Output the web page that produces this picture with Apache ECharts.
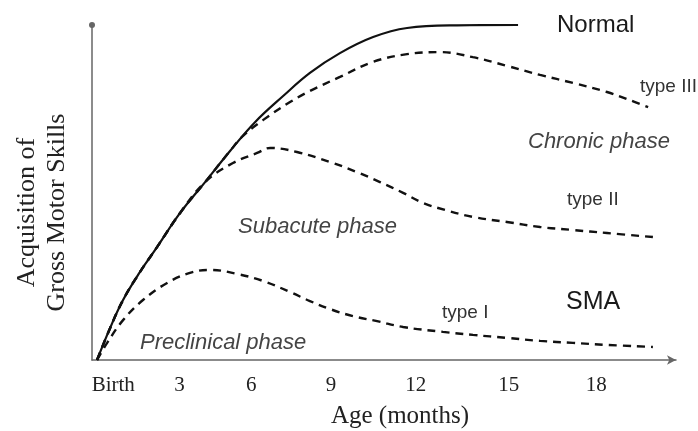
<!DOCTYPE html>
<html>
<head>
<meta charset="utf-8">
<script src="https://cdn.jsdelivr.net/npm/echarts@6/dist/echarts.min.js"></script>
<style>
  html, body { margin: 0; padding: 0; background: #fff; }
  #chart { width: 698px; height: 431px; }
</style>
</head>
<body>
<div id="chart"></div>
<script>
// x tick labels and where they sit on the age axis (months)
var tickLabels = ['Birth', '3', '6', '9', '12', '15', '18'];
var tickAt = [0.8, 3.3, 6, 9, 12.2, 15.7, 19];

// Normal development (solid)
var normalAge = [0.19, 0.68, 1.17, 1.81, 2.45, 3.32, 4.26, 5.2, 6.14, 7.2, 8.21, 9.34, 10.59, 11.87, 13.75, 16.05];
var normalSkill = [0, 9.5, 17.9, 26.3, 33.7, 43.9, 53.1, 62.4, 71.0, 78.8, 85.7, 91.6, 96.4, 99.1, 99.9, 100];

// SMA type III
var type3Age = [0.19, 0.68, 1.17, 1.81, 2.45, 3.32, 4.26, 5.2, 5.69, 6.44, 7.46, 8.21, 9.34, 10.59, 11.87, 13.11, 14.35, 15.63, 16.88, 18.12, 19.4, 20.15, 20.95];
var type3Skill = [0, 9.5, 17.9, 26.3, 33.7, 43.9, 53.1, 62.4, 66.9, 71.6, 77.0, 80.3, 84.5, 89.0, 91.3, 91.9, 90.4, 87.8, 85.1, 82.7, 80.0, 77.9, 75.5];

// SMA type II
var type2Age = [0.19, 0.68, 1.17, 1.81, 2.45, 3.32, 4.26, 5.31, 6.22, 6.71, 7.72, 8.97, 9.98, 10.85, 11.72, 12.47, 13.3, 14.35, 15.63, 16.88, 18.12, 19.4, 21.13];
var type2Skill = [0, 9.5, 17.9, 26.3, 33.7, 43.9, 53.1, 58.8, 61.8, 63.3, 62.1, 59.1, 56.1, 53.1, 49.9, 46.9, 44.8, 42.7, 41.2, 39.7, 38.8, 37.9, 36.7];

// SMA type I
var type1Age = [0.19, 0.57, 1.17, 1.92, 2.83, 3.69, 4.45, 5.46, 6.44, 7.46, 8.21, 8.97, 9.83, 10.74, 11.72, 13.22, 14.35, 15.63, 16.88, 18.12, 19.4, 21.13];
var type1Skill = [0, 5.1, 11.9, 17.9, 23.0, 26.0, 26.9, 25.7, 23.6, 20.3, 17.6, 15.2, 13.1, 11.6, 9.85, 8.4, 7.5, 6.6, 5.7, 5.1, 4.5, 3.9];

function zip (xs, ys) {
  return xs.map(function (x, i) { return [x, ys[i]]; });
}

var chart = echarts.init(document.getElementById('chart'));

function curve (name, xs, ys, dashed) {
  return {
    name: name,
    type: 'line',
    data: zip(xs, ys),
    smooth: 0.4,
    showSymbol: false,
    silent: true,
    lineStyle: {
      color: '#111',
      width: dashed ? 2.4 : 2.2,
      type: dashed ? [8, 6] : 'solid'
    }
  };
}

var sansText = function (text, x, y, size, italic, color) {
  return {
    type: 'text',
    x: x,
    y: y,
    style: {
      text: text,
      font: (italic ? 'italic ' : '') + size + 'px "Liberation Sans", Arial, sans-serif',
      fill: color,
      align: 'left',
      verticalAlign: 'middle'
    }
  };
};

chart.setOption({
  animation: false,
  grid: {
    left: 92,
    right: 22,
    top: 25,
    bottom: 71,
    outerBoundsMode: 'none'
  },
  xAxis: {
    type: 'value',
    min: 0,
    max: 22,
    name: 'Age (months)',
    nameLocation: 'middle',
    nameGap: 44,
    nameTextStyle: {
      fontFamily: '"Liberation Serif", "Times New Roman", serif',
      fontSize: 25,
      color: '#222',
      padding: [0, 0, 0, 32]
    },
    axisLine: {
      lineStyle: { color: '#666', width: 1.5 },
      symbol: ['none', 'arrow'],
      symbolSize: [7, 9]
    },
    axisTick: { show: false },
    splitLine: { show: false },
    axisLabel: {
      customValues: tickAt,
      margin: 15,
      fontFamily: '"Liberation Serif", "Times New Roman", serif',
      fontSize: 21,
      color: '#222',
      formatter: function (v) {
        var i = tickAt.indexOf(v);
        return i >= 0 ? tickLabels[i] : '';
      }
    }
  },
  yAxis: {
    type: 'value',
    min: 0,
    max: 100,
    name: 'Acquisition of\nGross Motor Skills',
    nameLocation: 'middle',
    nameRotate: 90,
    nameGap: 20,
    nameTextStyle: {
      fontFamily: '"Liberation Serif", "Times New Roman", serif',
      fontSize: 26,
      lineHeight: 30,
      color: '#222',
      padding: [0, 40, 0, 0]
    },
    axisLine: {
      show: true,
      lineStyle: { color: '#666', width: 1.5 },
      symbol: ['none', 'circle'],
      symbolSize: [6, 6]
    },
    axisTick: { show: false },
    axisLabel: { show: false },
    splitLine: { show: false }
  },
  graphic: [
    sansText('Normal', 557, 25, 24, false, '#1a1a1a'),
    sansText('type III', 640, 87, 19, false, '#333'),
    sansText('Chronic phase', 528, 142, 22, true, '#444'),
    sansText('type II', 567, 200, 19, false, '#333'),
    sansText('Subacute phase', 238, 227, 22, true, '#444'),
    sansText('SMA', 566, 302, 25, false, '#1a1a1a'),
    sansText('type I', 442, 313, 19, false, '#333'),
    sansText('Preclinical phase', 140, 343, 22, true, '#444')
  ],
  series: [
    curve('Normal', normalAge, normalSkill, false),
    curve('type III', type3Age, type3Skill, true),
    curve('type II', type2Age, type2Skill, true),
    curve('type I', type1Age, type1Skill, true)
  ]
});

window.addEventListener('resize', function () { chart.resize(); });
</script>
</body>
</html>
